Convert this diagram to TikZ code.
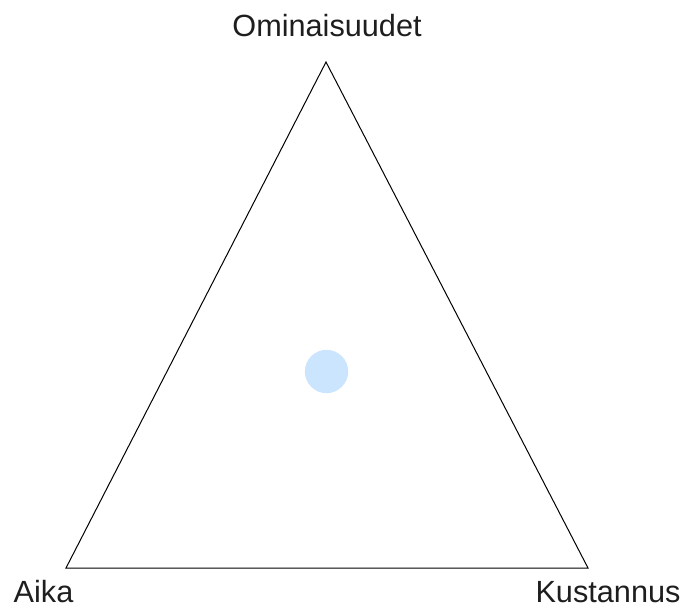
\documentclass[tikz,border=0pt]{standalone}
\usepackage{fontspec}
\setmainfont{Liberation Sans}
\usepackage{xcolor}
\usepackage{tikz}
\usetikzlibrary{positioning}
\definecolor{dotblue}{RGB}{204,229,255}
\definecolor{inktext}{RGB}{30,30,30}

\begin{document}
\begin{tikzpicture}[
  x=0.75pt,y=-0.75pt,
  corner/.style={font=\fontsize{23}{28}\selectfont,text=inktext,anchor=base,inner sep=0pt},
  edge/.style={draw=black,line width=0.75pt,line join=miter},
  dot/.style={circle,fill=dotblue,draw=none,minimum size=32.5pt,inner sep=0pt},
]
  \useasboundingbox (0,0) rectangle (683,606);
  \coordinate (top) at (326,62);
  \coordinate (left) at (66,568);
  \coordinate (right) at (588,568);
  \draw[edge] (top) -- (left) -- (right) -- cycle;
  \node[dot] (centre) at (326.5,371.5) {};
  \node[corner] (feat) at (327,37) {Ominaisuudet};
  \node[corner] (time) at (43.5,602) {Aika};
  \node[corner] (cost) at (608,602) {Kustannus};
\end{tikzpicture}
\end{document}
